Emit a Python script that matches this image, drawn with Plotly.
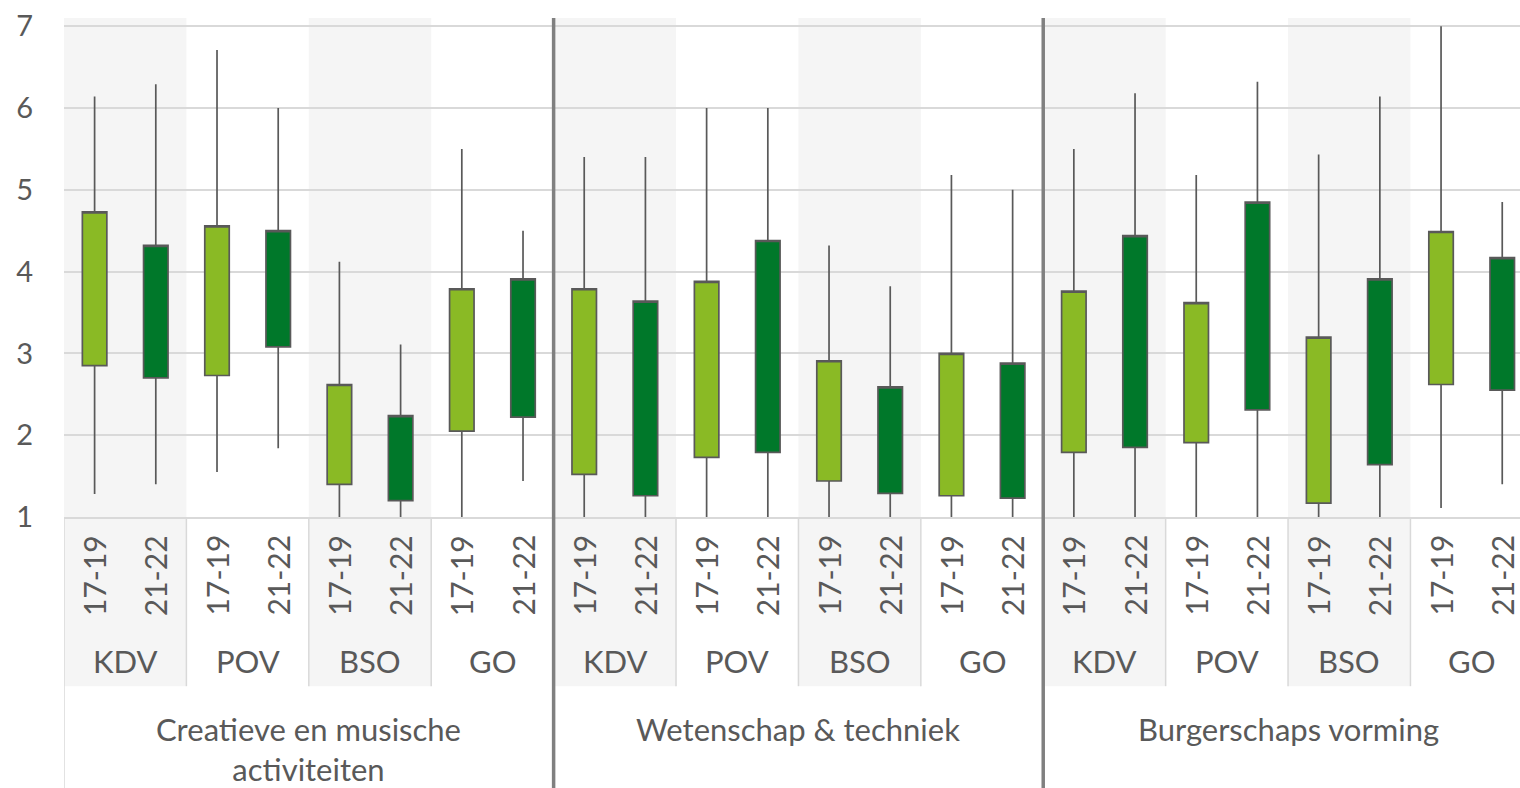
import plotly.graph_objects as go

# ---- data ----
groups = ["Creatieve en musische<br>activiteiten", "Wetenschap & techniek", "Burgerschaps vorming"]
settings = ["KDV", "POV", "BSO", "GO"]
periods = ["17-19", "21-22"]

p1719_low = [1.28, 1.55, 1.00, 1.00, 1.00, 1.00, 1.00, 1.00, 1.00, 1.00, 1.00, 1.11]
p1719_bottom = [2.85, 2.73, 1.40, 2.05, 1.52, 1.73, 1.44, 1.26, 1.79, 1.91, 1.17, 2.62]
p1719_top = [4.73, 4.56, 2.62, 3.79, 3.79, 3.88, 2.91, 3.00, 3.76, 3.62, 3.20, 4.49]
p1719_high = [6.14, 6.71, 4.12, 5.50, 5.40, 6.00, 4.32, 5.18, 5.50, 5.18, 5.43, 7.00]

p2122_low = [1.40, 1.84, 1.00, 1.44, 1.00, 1.00, 1.00, 1.00, 1.00, 1.00, 1.00, 1.40]
p2122_bottom = [2.70, 3.08, 1.20, 2.22, 1.26, 1.79, 1.29, 1.23, 1.85, 2.31, 1.64, 2.55]
p2122_top = [4.32, 4.50, 2.24, 3.91, 3.64, 4.38, 2.59, 2.88, 4.44, 4.85, 3.91, 4.17]
p2122_high = [6.29, 6.00, 3.11, 4.50, 5.40, 6.00, 3.82, 5.00, 6.18, 6.32, 6.14, 4.85]

y_ticks = [1, 2, 3, 4, 5, 6, 7]

# ---- styles ----
FONT = "Lato"
TXT = "#595959"
LIGHT = "#8aba25"
DARK = "#00782a"
EDGE = "#595959"
GRID = "#d9d9d9"
BAND = "#f5f5f5"
SEP = "#808080"

n_sub = len(settings) * len(periods)   # 8 per group
n_cells = len(groups) * len(settings)   # 12
x_a = [len(periods) * k for k in range(n_cells)]
x_b = [len(periods) * k + 1 for k in range(n_cells)]

fig = go.Figure()

def candle(x, lo, bot, top, hi, color, name):
    return go.Candlestick(
        x=x, open=bot, close=top, low=lo, high=hi, name=name,
        increasing=dict(fillcolor=color, line=dict(color=EDGE, width=1.7)),
        decreasing=dict(fillcolor=color, line=dict(color=EDGE, width=1.7)),
        whiskerwidth=0, hoverinfo="skip", showlegend=False,
    )

fig.add_trace(candle(x_a, p1719_low, p1719_bottom, p1719_top, p1719_high, LIGHT, periods[0]))
fig.add_trace(candle(x_b, p2122_low, p2122_bottom, p2122_top, p2122_high, DARK, periods[1]))

# paper coordinates for the label area below the plot
Y_PERIOD = -0.117
Y_SETTING = -0.289
Y_GROUP = -0.382
Y_BAND_BOTTOM = -0.339
Y_BOTTOM = -0.56

shapes = []
annotations = []
for g, gname in enumerate(groups):
    base = g * n_sub
    for s, sname in enumerate(settings):
        x0 = base + s * len(periods) - 0.5
        x1 = x0 + len(periods)
        if s % 2 == 0:
            shapes.append(dict(type="rect", xref="x", yref="paper", x0=x0, x1=x1,
                               y0=Y_BAND_BOTTOM, y1=1, fillcolor=BAND, line=dict(width=0),
                               layer="below"))
        if s > 0:
            shapes.append(dict(type="line", xref="x", yref="paper", x0=x0, x1=x0,
                               y0=Y_BAND_BOTTOM, y1=0, line=dict(color=GRID, width=1.5),
                               layer="above"))
        annotations.append(dict(x=x0 + len(periods) / 2, y=Y_SETTING, xref="x", yref="paper",
                                text=sname, showarrow=False, xanchor="center", yanchor="middle",
                                font=dict(family=FONT, size=31, color=TXT)))
        for p, pname in enumerate(periods):
            annotations.append(dict(x=x0 + 0.5 + p, y=Y_PERIOD, xref="x", yref="paper",
                                    text=pname, showarrow=False, textangle=-90,
                                    xanchor="center", yanchor="middle",
                                    font=dict(family=FONT, size=30, color=TXT)))
    annotations.append(dict(x=base + n_sub / 2 - 0.5, y=Y_GROUP, xref="x", yref="paper",
                            text=gname, showarrow=False, xanchor="center", yanchor="top",
                            align="center",
                            font=dict(family=FONT, size=31, color=TXT)))
    if g > 0:
        shapes.append(dict(type="line", xref="x", yref="paper", x0=base - 0.5, x1=base - 0.5,
                           y0=Y_BOTTOM, y1=1, line=dict(color=SEP, width=3.5), layer="above"))

shapes.append(dict(type="line", xref="x", yref="paper", x0=-0.5, x1=-0.5,
                   y0=Y_BOTTOM, y1=0, line=dict(color=GRID, width=1.5), layer="above"))

fig.update_layout(
    width=1520, height=788,
    margin=dict(l=64, r=0, t=18, b=271, autoexpand=False),
    paper_bgcolor="white", plot_bgcolor="white",
    boxgap=0.6, boxgroupgap=0,
    shapes=shapes, annotations=annotations,
    xaxis=dict(range=[-0.5, 23.29], showgrid=False, zeroline=False, showticklabels=False,
               rangeslider=dict(visible=False), showline=True, linecolor=GRID, linewidth=1.5,
               fixedrange=True, automargin=False),
    yaxis=dict(range=[1, 7.1], tickvals=y_ticks, ticktext=[str(v) for v in y_ticks],
               showgrid=True, gridcolor=GRID, gridwidth=1.5, zeroline=False,
               ticklabelstandoff=30, automargin=False,
               tickfont=dict(family=FONT, size=29, color=TXT), fixedrange=True),
    font=dict(family=FONT, color=TXT),
)

fig.write_html("out.html", config={"displayModeBar": False},
               post_script="document.body.style.margin='0';document.body.style.overflow='hidden';")
